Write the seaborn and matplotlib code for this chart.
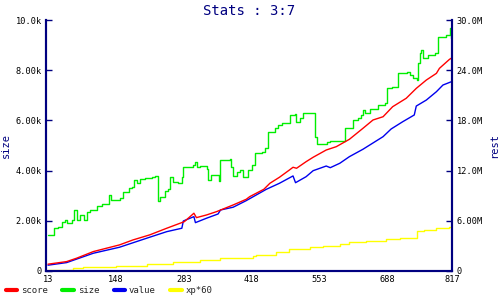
import matplotlib
matplotlib.use("Agg")
import matplotlib.pyplot as plt
from matplotlib.lines import Line2D
import seaborn as sns
import pandas as pd

# ---- data ----
size_x = [13, 24, 33, 41, 47, 51, 61, 65, 71, 77, 84, 90, 97, 110, 120, 135, 138, 157, 162, 173,
          180, 183, 190, 196, 206, 219, 226, 231, 236, 246, 252, 256, 262, 272, 279, 282, 302, 305,
          309, 315, 329, 332, 337, 352, 355, 374, 376, 381, 388, 395, 401, 411, 418, 425, 438, 445,
          450, 464, 471, 478, 494, 504, 506, 514, 520, 540, 544, 547, 567, 573, 603, 620, 630, 636,
          640, 643, 653, 669, 683, 686, 696, 709, 726, 732, 738, 746, 749, 752, 755, 759, 768, 782,
          789, 805, 813, 815, 817]
size_k = [1.41, 1.69, 1.76, 1.96, 2.02, 1.89, 2.02, 2.42, 2.02, 2.22, 2.02, 2.36, 2.42, 2.58, 2.66,
          3.02, 2.82, 2.89, 3.15, 3.29, 3.35, 3.62, 3.49, 3.65, 3.69, 3.75, 3.78, 2.80, 2.96, 3.19,
          3.25, 3.75, 3.55, 3.51, 3.75, 4.15, 4.22, 4.33, 4.15, 4.18, 4.05, 3.62, 3.82, 3.58, 4.42,
          4.45, 4.15, 3.79, 3.95, 4.02, 3.75, 4.02, 4.22, 4.69, 4.75, 4.89, 5.55, 5.69, 5.82, 5.89,
          6.22, 6.25, 5.95, 6.09, 6.29, 6.31, 5.35, 5.05, 5.15, 5.18, 5.69, 6.02, 6.09, 6.22, 6.42,
          6.29, 6.45, 6.62, 6.69, 7.28, 7.35, 7.88, 7.95, 7.82, 7.68, 7.62, 8.28, 8.68, 8.81, 8.48,
          8.61, 8.68, 9.35, 9.41, 9.68, 9.28, 9.28]

score_x = [13, 50, 70, 103, 129, 155, 182, 215, 249, 284, 303, 308, 328, 348, 381, 407, 414, 442,
           454, 473, 493, 500, 507, 526, 540, 566, 586, 612, 639, 659, 679, 698, 725, 745, 765, 785,
           791, 811, 817]
score_m = [0.77, 1.08, 1.49, 2.28, 2.68, 3.08, 3.68, 4.28, 5.08, 5.87, 6.88, 6.35, 6.67, 7.07, 7.87,
           8.55, 8.87, 9.75, 10.47, 11.19, 12.07, 12.39, 12.27, 13.06, 13.59, 14.46, 14.86, 15.74,
           17.06, 18.06, 18.45, 19.65, 20.66, 21.85, 22.85, 23.65, 24.25, 25.33, 25.55]

value_x = [13, 50, 103, 155, 215, 249, 279, 282, 303, 306, 328, 351, 356, 381, 407, 447, 473, 500,
           505, 526, 540, 566, 574, 593, 612, 639, 679, 695, 718, 741, 745, 765, 785, 798, 817]
value_m = [0.65, 0.96, 2.08, 2.80, 4.00, 4.67, 5.08, 5.95, 6.47, 5.75, 6.28, 6.79, 7.27, 7.60, 8.39,
           9.75, 10.47, 11.35, 10.54, 11.26, 11.98, 12.54, 12.34, 12.87, 13.66, 14.55, 16.06, 16.98,
           17.85, 18.66, 19.73, 20.45, 21.45, 22.25, 22.70]

xp_x = [13, 63, 83, 149, 209, 262, 315, 354, 420, 427, 467, 493, 533, 559, 593, 612, 646, 685, 712,
        746, 761, 784, 811, 817]
xp_m = [0.12, 0.29, 0.41, 0.56, 0.77, 1.08, 1.28, 1.56, 1.80, 1.88, 2.28, 2.56, 2.80, 3.00, 3.20,
        3.40, 3.56, 3.76, 3.95, 4.76, 4.88, 5.08, 5.27, 5.36]

x_ticks = [13, 148, 283, 418, 553, 688, 817]
left_ticks = [0, 2, 4, 6, 8, 10]
left_labels = ["0", "2.00k", "4.00k", "6.00k", "8.00k", "10.0k"]
right_ticks = [0, 6, 12, 18, 24, 30]
right_labels = ["0", "6.00M", "12.0M", "18.0M", "24.0M", "30.0M"]
title = "Stats : 3:7"
names = ["score", "size", "value", "xp*60"]
colors = ["#ff0000", "#00ee00", "#0000ee", "#ffff00"]

# ---- plot ----
sns.set_style("white")
plt.rcParams['font.family'] = ['DejaVu Sans Mono']
navy = "#000080"

fig = plt.figure(figsize=(5, 3), dpi=100)
ax = fig.add_axes([0.092, 0.098, 0.813, 0.834])
ax2 = ax.twinx()

size_df = pd.DataFrame({"x": size_x, "y": size_k})
sns.lineplot(data=size_df, x="x", y="y", ax=ax, color=colors[1], lw=1.0,
             drawstyle="steps-post", estimator=None, sort=False)
sns.lineplot(data=pd.DataFrame({"x": xp_x, "y": xp_m}), x="x", y="y", ax=ax2, color=colors[3],
             lw=1.0, drawstyle="steps-post", estimator=None, sort=False)
sns.lineplot(data=pd.DataFrame({"x": value_x, "y": value_m}), x="x", y="y", ax=ax2,
             color=colors[2], lw=1.0, estimator=None, sort=False)
sns.lineplot(data=pd.DataFrame({"x": score_x, "y": score_m}), x="x", y="y", ax=ax2,
             color=colors[0], lw=1.0, estimator=None, sort=False)

ax.set_xlim(9, 817)
ax.set_ylim(0, 10)
ax2.set_ylim(0, 30)
ax.set_xticks(x_ticks)
ax.set_xticklabels([str(t) for t in x_ticks])
ax.set_yticks(left_ticks)
ax.set_yticklabels(left_labels)
ax2.set_yticks(right_ticks)
ax2.set_yticklabels(right_labels)

for a in (ax, ax2):
    a.set_facecolor("none")
    for side, sp in a.spines.items():
        sp.set_color(navy)
        sp.set_linewidth(1.5)
    a.spines["top"].set_visible(False)
    a.tick_params(direction="in", length=4, width=1, color=navy, labelsize=6.2,
                  labelcolor="black", pad=3)
ax.set_xlabel("")
ax.set_ylabel("size", color=navy, fontsize=7.5)
ax2.set_ylabel("rest", color=navy, fontsize=7.5, rotation=90)
ax.yaxis.set_label_coords(-0.087, 0.5)
ax2.yaxis.set_label_coords(1.09, 0.5)
ax.set_title(title, color=navy, fontsize=10, pad=4)

handles = [Line2D([0], [0], color=c, lw=3) for c in colors]
fig.legend(handles, names, loc="lower left", bbox_to_anchor=(-0.005, -0.01), ncol=4,
           frameon=False, handlelength=1.3, handletextpad=0.4, columnspacing=1.6,
           prop={"size": 6.5})

fig.savefig("out.png", dpi=100)
